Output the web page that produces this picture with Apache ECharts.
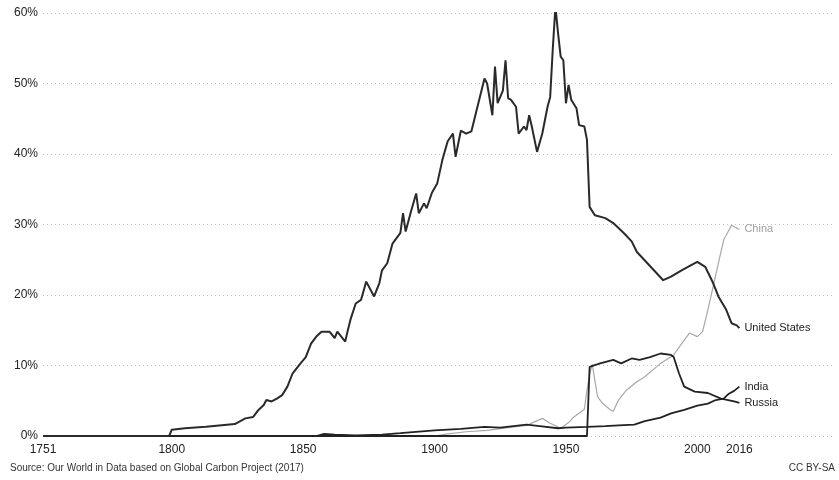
<!DOCTYPE html>
<html>
<head>
<meta charset="utf-8">
<title>Share of global CO2 emissions</title>
<script src="https://cdn.jsdelivr.net/npm/echarts@6/dist/echarts.min.js"></script>
<style>
  html, body { margin: 0; padding: 0; background: #fff; }
  #chart { width: 839px; height: 480px; }
</style>
</head>
<body>
<div id="chart"></div>
<script>
// values, in % of global emissions
const xTickYears = [1751, 1800, 1850, 1900, 1950, 2000, 2016];

const usYears = [1751, 1799, 1800, 1805, 1813, 1821, 1824, 1828, 1831, 1833, 1835, 1836, 1838, 1840, 1842, 1844, 1846, 1849,
  1851, 1853, 1855, 1857, 1860, 1862, 1863, 1866, 1867, 1868, 1870, 1872, 1874, 1877, 1879, 1880, 1882, 1884, 1887, 1888,
  1889, 1891, 1893, 1894, 1896, 1897, 1899, 1901, 1903, 1905, 1907, 1908, 1910, 1912, 1914, 1916, 1919, 1920, 1922, 1923,
  1924, 1926, 1927, 1928, 1929, 1931, 1932, 1934, 1935, 1936, 1937, 1939, 1941, 1943, 1944, 1945, 1946, 1947, 1948, 1949,
  1950, 1951, 1952, 1954, 1955, 1957, 1958, 1959, 1961, 1965, 1968, 1972, 1975, 1977, 1981, 1984, 1987, 1990, 1994, 1998,
  2000, 2003, 2006, 2008, 2011, 2013, 2015, 2016];
const usValues = [0, 0, 0.9, 1.1, 1.3, 1.6, 1.7, 2.5, 2.7, 3.7, 4.4, 5.1, 4.9, 5.3, 5.8, 7, 8.9, 10.3,
  11.2, 13.1, 14.1, 14.8, 14.8, 13.9, 14.8, 13.4, 15, 16.5, 18.8, 19.3, 21.9, 19.8, 21.7, 23.5, 24.5, 27.3, 28.8, 31.6,
  29, 31.8, 34.4, 31.6, 33, 32.3, 34.5, 35.8, 39.2, 41.8, 42.9, 39.6, 43.3, 42.9, 43.2, 46.2, 50.7, 50, 45.5, 52.4,
  47.2, 49, 53.3, 47.9, 47.7, 46.7, 42.9, 43.9, 43.4, 45.5, 43.9, 40.3, 42.9, 46.7, 48.1, 55, 60.9, 57.1, 53.8, 53.3,
  47.2, 49.8, 47.7, 46.5, 44.1, 43.9, 42, 32.5, 31.3, 30.9, 30.2, 28.8, 27.6, 26.1, 24.5, 23.3, 22.1, 22.6, 23.5, 24.3,
  24.7, 24, 21.7, 19.8, 17.9, 16, 15.7, 15.3];

const chinaYears = [1751, 1900, 1905, 1912, 1920, 1928, 1935, 1938, 1941, 1944, 1948, 1951, 1953, 1956, 1957, 1958, 1959,
  1960, 1961, 1962, 1964, 1967, 1968, 1970, 1973, 1977, 1980, 1986, 1991, 1995, 1997, 2000, 2002, 2004, 2006, 2008,
  2010, 2013, 2016];
const chinaValues = [0, 0, 0.3, 0.6, 0.8, 1.2, 1.5, 2, 2.5, 1.8, 1.1, 1.9, 2.7, 3.5, 3.8, 6.5, 8.7,
  10.2, 7.9, 5.6, 4.6, 3.7, 3.5, 5.1, 6.5, 7.7, 8.4, 10.3, 11.5, 13.6, 14.6, 14.1, 14.8, 17.9, 21.2, 24.5,
  27.8, 29.9, 29.3];

const indiaYears = [1751, 1855, 1858, 1862, 1870, 1880, 1887, 1900, 1910, 1919, 1925, 1935, 1940, 1947, 1950, 1958, 1965,
  1970, 1976, 1980, 1986, 1990, 1995, 2000, 2004, 2007, 2010, 2012, 2014, 2016];
const indiaValues = [0, 0, 0.3, 0.2, 0.1, 0.2, 0.4, 0.8, 1, 1.3, 1.2, 1.6, 1.4, 1.1, 1.2, 1.3, 1.4,
  1.5, 1.6, 2.1, 2.6, 3.2, 3.7, 4.3, 4.6, 5.1, 5.3, 6, 6.4, 7];

const russiaYears = [1751, 1958, 1959, 1963, 1968, 1971, 1975, 1978, 1982, 1986, 1990, 1991, 1993, 1995, 1999, 2004, 2009,
  2014, 2016];
const russiaValues = [0, 0, 9.8, 10.3, 10.8, 10.3, 11, 10.8, 11.2, 11.7, 11.5, 11.2, 8.9, 7, 6.3, 6.1, 5.3,
  4.9, 4.7];

function pairs(xs, ys) {
  return xs.map((x, i) => [x, ys[i]]);
}

function line(name, xs, ys, color, width, labelColor) {
  return {
    name: name,
    type: "line",
    data: pairs(xs, ys),
    showSymbol: false,
    color: color,
    lineStyle: { color: color, width: width },
    endLabel: {
      show: true,
      formatter: "{a}",
      color: labelColor,
      fontSize: 11,
      fontFamily: "Liberation Sans, Arial, sans-serif",
      distance: 5
    },
    emphasis: { disabled: true },
    z: name === "China" ? 2 : 3
  };
}

const chart = echarts.init(document.getElementById("chart"));
chart.setOption({
  animation: false,
  textStyle: { fontFamily: "Liberation Sans, Arial, sans-serif" },
  grid: { left: 43, right: 5, top: 13, bottom: 44 },
  xAxis: {
    type: "value",
    min: 1751,
    max: 2052,
    axisLine: { show: false },
    axisTick: { show: false },
    splitLine: { show: false },
    axisLabel: {
      customValues: xTickYears,
      color: "#222",
      fontSize: 12,
      margin: 8,
      formatter: v => String(v)
    }
  },
  yAxis: {
    type: "value",
    min: 0,
    max: 60,
    interval: 10,
    axisLine: { show: false },
    axisTick: { show: false },
    axisLabel: { formatter: "{value}%", color: "#222", fontSize: 12, margin: 5 },
    splitLine: { lineStyle: { color: "#c0c0c0", type: [1, 3], width: 1 } }
  },
  series: [
    line("China", chinaYears, chinaValues, "#a8a8a8", 1.2, "#a0a0a0"),
    line("India", indiaYears, indiaValues, "#222", 1.8, "#222"),
    line("Russia", russiaYears, russiaValues, "#222", 1.8, "#222"),
    line("United States", usYears, usValues, "#2a2a2a", 2, "#222")
  ],
  graphic: [
    {
      type: "text",
      left: 10,
      top: 463,
      style: {
        text: "Source: Our World in Data based on Global Carbon Project (2017)",
        fill: "#333",
        fontSize: 10,
        fontFamily: "Liberation Sans, Arial, sans-serif"
      }
    },
    {
      type: "text",
      right: 4,
      top: 463,
      style: {
        text: "CC BY-SA",
        fill: "#333",
        fontSize: 10,
        fontFamily: "Liberation Sans, Arial, sans-serif"
      }
    }
  ]
});
</script>
</body>
</html>
